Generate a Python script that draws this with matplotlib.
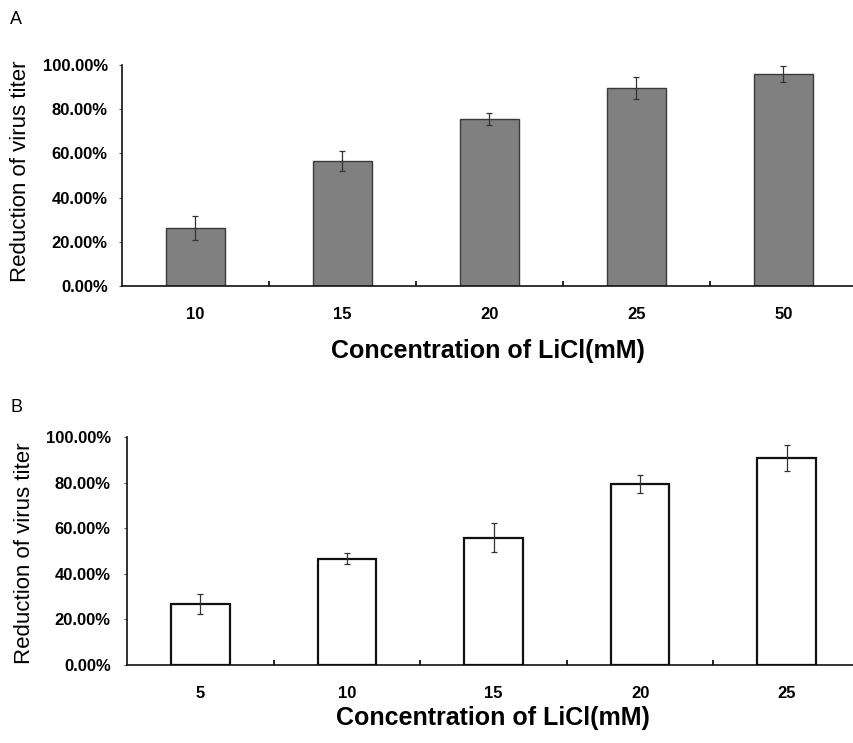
import matplotlib
matplotlib.use("Agg")
import matplotlib.pyplot as plt
from matplotlib.ticker import FixedLocator, FuncFormatter

plt.rcParams['font.family'] = ['Liberation Sans', 'DejaVu Sans']

# Panel A data
a_conc = ['10', '15', '20', '25', '50']
a_mean = [26.2, 56.5, 75.6, 89.6, 95.8]
a_err = [5.4, 4.4, 2.6, 5.0, 3.6]

# Panel B data
b_conc = ['5', '10', '15', '20', '25']
b_mean = [26.8, 46.6, 55.8, 79.5, 90.8]
b_err = [4.4, 2.4, 6.4, 4.0, 5.5]

yticks = [0, 20, 40, 60, 80, 100]

W, H = 854, 743
fig = plt.figure(figsize=(W / 100, H / 100), dpi=100)


def px_axes(left, right, top, bottom):
    return fig.add_axes([left / W, 1 - bottom / H, (right - left) / W, (bottom - top) / H])


def style(ax, cats, ypad):
    n = len(cats)
    ax.set_xlim(-0.5, n - 0.5)
    ax.set_ylim(0, 100)
    for s in ['top', 'right']:
        ax.spines[s].set_visible(False)
    for s in ['left', 'bottom']:
        ax.spines[s].set_linewidth(1.2)
        ax.spines[s].set_color('#111111')
    ax.set_xticks(range(n))
    ax.set_xticklabels(cats, fontsize=12, fontweight='bold')
    ax.xaxis.set_minor_locator(FixedLocator([i + 0.5 for i in range(n - 1)]))
    ax.tick_params(axis='x', which='major', length=0, pad=15)
    ax.tick_params(axis='x', which='minor', direction='in', length=3.5, width=1.3, color='#111111')
    ax.set_yticks(yticks)
    ax.yaxis.set_major_formatter(FuncFormatter(lambda v, p: f'{v:.2f}%'))
    ax.tick_params(axis='y', which='major', direction='out', length=2.2, width=0.8,
                   pad=ypad, labelsize=12, color='#555555')
    for lbl in ax.get_yticklabels():
        lbl.set_fontweight('bold')


# Panel A
axA = px_axes(122, 857, 65, 286)
xA = list(range(len(a_conc)))
axA.bar(xA, a_mean, width=0.4, color='#808080', edgecolor='#3a3a3a', linewidth=1.0, zorder=2)
axA.errorbar(xA, a_mean, yerr=a_err, fmt='none', ecolor='#333333', elinewidth=0.9,
             capsize=2.5, capthick=0.9, zorder=3)
style(axA, a_conc, 8)

# Panel B
axB = px_axes(127, 860, 437, 665)
xB = list(range(len(b_conc)))
axB.bar(xB, b_mean, width=0.4, color='white', edgecolor='#111111', linewidth=1.6, zorder=2)
axB.errorbar(xB, b_mean, yerr=b_err, fmt='none', ecolor='#333333', elinewidth=0.9,
             capsize=2.5, capthick=0.9, zorder=3)
style(axB, b_conc, 9.5)

# Axis labels
fig.text(21 / W, 1 - 171 / H, 'Reduction of virus titer', rotation=90, ha='center', va='center', fontsize=16)
fig.text(25 / W, 1 - 553 / H, 'Reduction of virus titer', rotation=90, ha='center', va='center', fontsize=16)
fig.text(488 / W, 1 - 358 / H, 'Concentration of LiCl(mM)', ha='center', va='baseline',
         fontsize=18, fontweight='bold')
fig.text(493 / W, 1 - 725 / H, 'Concentration of LiCl(mM)', ha='center', va='baseline',
         fontsize=18, fontweight='bold')

# Panel letters
fig.text(10 / W, 1 - 24 / H, 'A', ha='left', va='baseline', fontsize=13)
fig.text(11 / W, 1 - 412 / H, 'B', ha='left', va='baseline', fontsize=13)

fig.savefig('out.png', dpi=100)
